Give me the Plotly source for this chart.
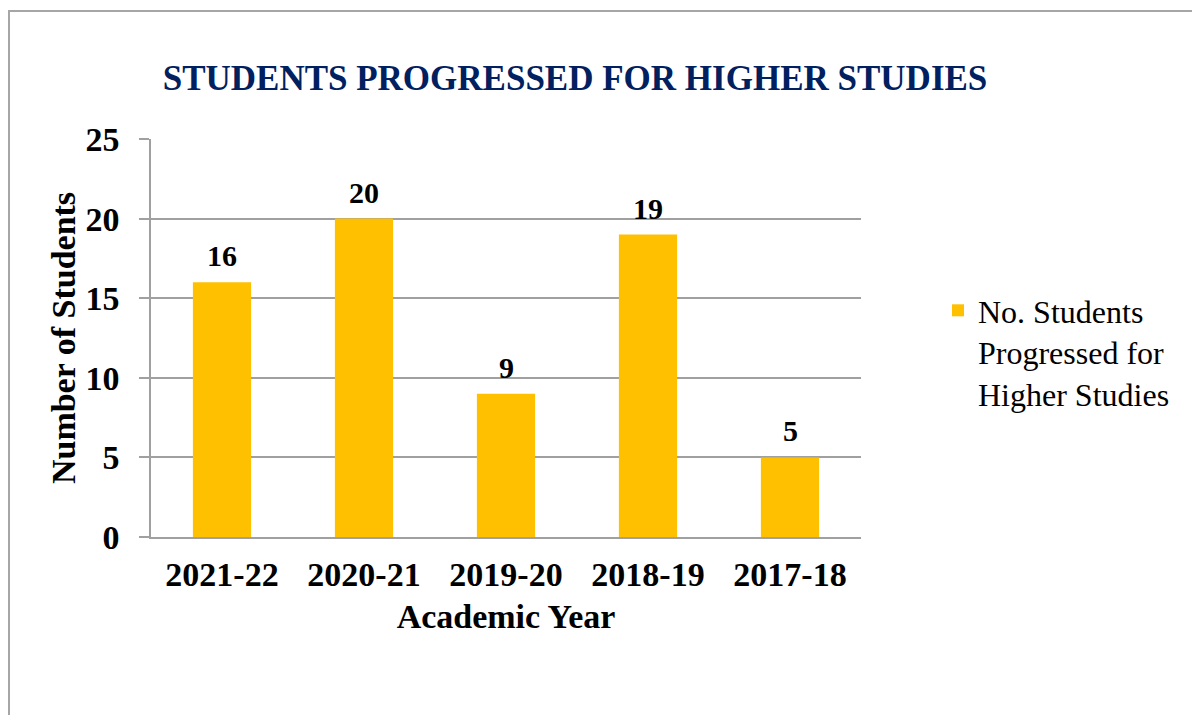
import plotly.graph_objects as go

years = ["2021-22", "2020-21", "2019-20", "2018-19", "2017-18"]
students = [16, 20, 9, 19, 5]
series_name = "No. Students<br>Progressed for<br>Higher Studies"
y_ticks = [0, 5, 10, 15, 20, 25]

FONT = "Liberation Serif"
OFF = 8  # page body margin
W, H = 1192, 707
# target screen coordinates of plot area
SL, SR, ST, SB = 151, 861, 139, 537
L, T = SL - OFF, ST - OFF
R, B = W - (SR - OFF), H - (SB - OFF)
pw, ph = W - L - R, H - T - B

def px(sx):
    return (sx - SL) / pw

def py(sy):
    return (SB - sy) / ph

fig = go.Figure()
fig.add_trace(go.Bar(
    x=years, y=students, name=series_name,
    marker=dict(color="#FFC000", line=dict(width=0)),
    showlegend=True,
))

for yr, val in zip(years, students):
    fig.add_annotation(x=yr, y=val, text=f"<b>{val}</b>", showarrow=False,
                       xanchor="center", yanchor="bottom", yshift=8,
                       font=dict(family=FONT, size=30, color="black"))

fig.update_layout(
    width=W, height=H,
    margin=dict(l=L, r=R, t=T, b=B),
    paper_bgcolor="white", plot_bgcolor="white",
    bargap=0.59,
    title=dict(text="<b>STUDENTS PROGRESSED FOR HIGHER STUDIES</b>",
               font=dict(family=FONT, size=35, color="#002060"),
               x=(575 - OFF) / W, xanchor="center", y=1 - (78 - OFF) / H, yanchor="middle"),
    legend=dict(x=px(938), y=py(283), xanchor="left", yanchor="top",
                font=dict(family=FONT, size=32, color="black"),
                valign="top", itemwidth=30, bgcolor="rgba(0,0,0,0)"),
    showlegend=True,
    xaxis=dict(
        title=dict(text="<b>Academic Year</b>", font=dict(family=FONT, size=34, color="black"), standoff=13),
        tickfont=dict(family=FONT, size=34, color="black", weight="bold"),
        ticklabelstandoff=6,
        showline=True, linecolor="#A0A0A0", linewidth=1.5,
        ticks="", showgrid=False,
    ),
    yaxis=dict(
        title=dict(text="<b>Number of Students</b>", font=dict(family=FONT, size=34, color="black"), standoff=0),
        tickfont=dict(family=FONT, size=34, color="black", weight="bold"),
        ticklabelstandoff=13,
        range=[0, 25], tickvals=y_ticks,
        showline=True, linecolor="#A0A0A0", linewidth=1.5,
        ticks="outside", ticklen=10, tickcolor="#A0A0A0", tickwidth=1.5,
        showgrid=True, gridcolor="#A0A0A0", gridwidth=1.5,
        zeroline=False,
    ),
    shapes=[dict(type="rect", xref="paper", yref="paper",
                 x0=px(9), x1=px(1215), y0=py(730), y1=py(11),
                 line=dict(color="#A6A6A6", width=2), fillcolor="rgba(0,0,0,0)", layer="below")],
)

fig.write_html("out.html")
